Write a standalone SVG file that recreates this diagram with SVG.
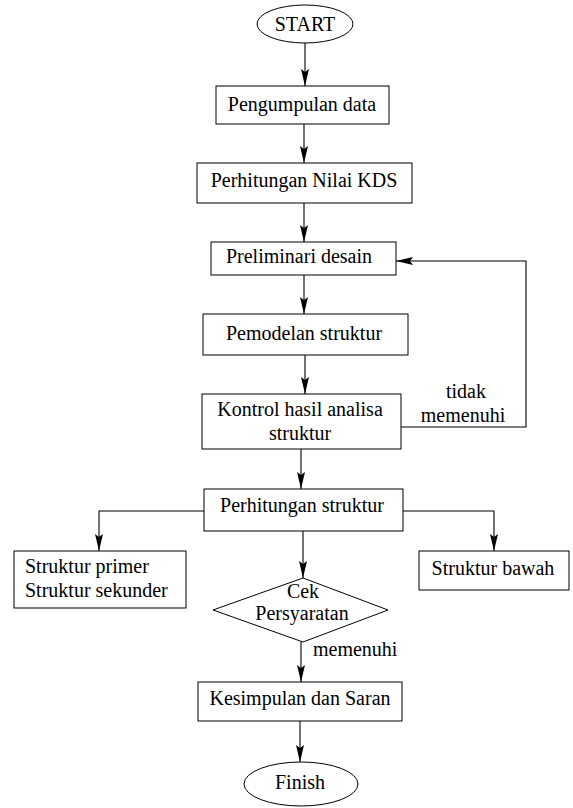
<svg xmlns="http://www.w3.org/2000/svg" width="573" height="808" viewBox="0 0 573 808" font-family="'Liberation Serif', 'Times New Roman', 'DejaVu Serif', serif">
<style>
.n{fill:#fff;stroke:#000;stroke-width:1}
text{font-family:'Liberation Serif','Times New Roman','DejaVu Serif',serif;font-size:20px;fill:#000}
.c{text-anchor:middle}
.e path{fill:none;stroke:#000;stroke-width:1.1}
</style>
<defs>
<marker id="ah" markerUnits="userSpaceOnUse" markerWidth="18" markerHeight="8" refX="17" refY="4" orient="auto">
<path d="M0,0 L17,4 L0,8 L3,4 z" fill="#000"/>
</marker>
</defs>
<rect width="573" height="808" fill="#fff"/>
<g class="e">
<path d="M305,43 V86" marker-end="url(#ah)"/>
<path d="M304,124 V163" marker-end="url(#ah)"/>
<path d="M304,203 V242" marker-end="url(#ah)"/>
<path d="M304,275 V314" marker-end="url(#ah)"/>
<path d="M305,355 V394" marker-end="url(#ah)"/>
<path d="M301,449 V489" marker-end="url(#ah)"/>
<path d="M401,427 H526 V261 H396" marker-end="url(#ah)"/>
<path d="M204,511 H99 V551" marker-end="url(#ah)"/>
<path d="M403,511 H494 V551" marker-end="url(#ah)"/>
<path d="M303,531 V578" marker-end="url(#ah)"/>
<path d="M301,642 V682" marker-end="url(#ah)"/>
<path d="M300,721 V762" marker-end="url(#ah)"/>
</g>
<g id="start"><ellipse class="n" cx="305" cy="24" rx="48" ry="19"/><text class="c" x="305" y="31">START</text></g>
<g id="pengumpulan"><rect class="n" x="216" y="86" width="173" height="38"/><text class="c" x="302" y="111">Pengumpulan data</text></g>
<g id="kds"><rect class="n" x="197" y="163" width="215" height="40"/><text class="c" x="304" y="187">Perhitungan Nilai KDS</text></g>
<g id="preliminari"><rect class="n" x="211" y="242" width="185" height="33"/><text class="c" x="299" y="263">Preliminari desain</text></g>
<g id="pemodelan"><rect class="n" x="203" y="314" width="205" height="41"/><text class="c" x="304" y="340">Pemodelan struktur</text></g>
<g id="kontrol"><rect class="n" x="202" y="394" width="199" height="55"/><text class="c" x="300" y="416">Kontrol hasil analisa</text><text class="c" x="300" y="440">struktur</text></g>
<g id="label-tidak"><text class="c" x="466" y="398">tidak</text><text class="c" x="463" y="422">memenuhi</text></g>
<g id="perhitungan"><rect class="n" x="204" y="489" width="199" height="42"/><text class="c" x="302" y="512">Perhitungan struktur</text></g>
<g id="primer"><rect class="n" x="14" y="551" width="172" height="57"/><text x="25" y="573">Struktur primer</text><text x="25" y="597">Struktur sekunder</text></g>
<g id="bawah"><rect class="n" x="419" y="551" width="150" height="39"/><text class="c" x="493" y="575">Struktur bawah</text></g>
<g id="cek"><path class="n" d="M303,578 L388,610 L303,642 L213,610 Z"/><text class="c" x="303" y="598">Cek</text><text class="c" x="302" y="620">Persyaratan</text></g>
<g id="label-memenuhi"><text x="313" y="656">memenuhi</text></g>
<g id="kesimpulan"><rect class="n" x="198" y="682" width="204" height="39"/><text class="c" x="300" y="705">Kesimpulan dan Saran</text></g>
<g id="finish"><ellipse class="n" cx="301" cy="784" rx="57" ry="22"/><text class="c" x="300" y="789">Finish</text></g>
</svg>
